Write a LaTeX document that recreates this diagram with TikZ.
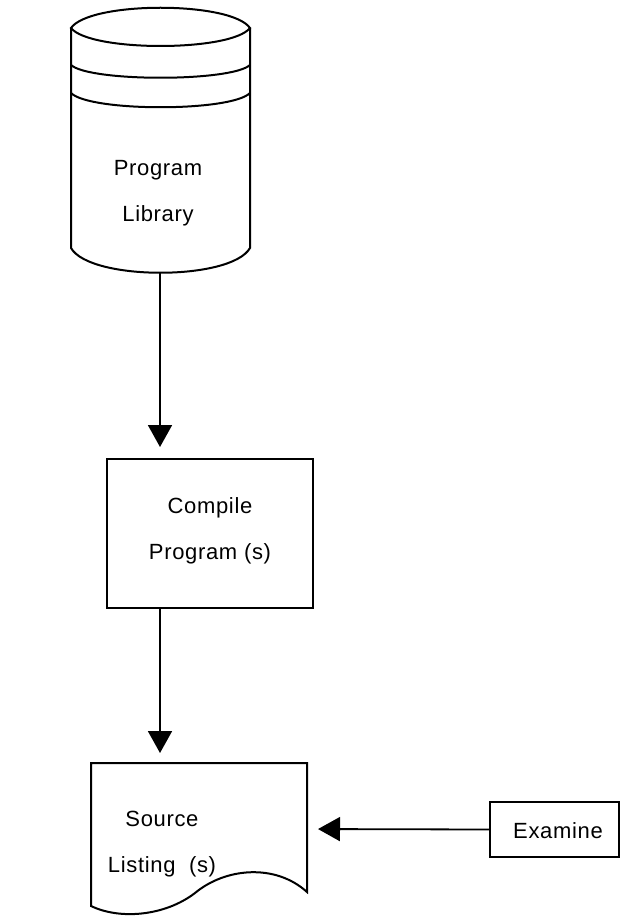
\documentclass[tikz,border=0pt]{standalone}
\usepackage{fontspec}
\setmainfont{Liberation Sans}[LetterSpace=3]
\usetikzlibrary{arrows.meta,calc}
\begin{document}
\begin{tikzpicture}[x=1pt,y=-1pt,
  lbl/.style={align=center,font=\fontsize{22}{46}\selectfont,inner sep=0pt},
  shp/.style={draw=black,line width=2pt,line join=miter},
  arr/.style={line width=1.8pt,-{Triangle[length=22pt,width=24pt]}}]
\useasboundingbox (0,0) rectangle (622,917);
% cylinder (program library)
\draw[shp] (71,28) .. controls (90,1) and (231,1) .. (250,28)
  .. controls (231,52) and (90,52) .. (71,28) -- cycle;
\draw[shp] (71,65) .. controls (90,82) and (231,82) .. (250,65);
\draw[shp] (71,93) .. controls (90,112) and (231,112) .. (250,93);
\draw[shp] (71,28) -- (71,248) .. controls (90,281) and (231,281) .. (250,248) -- (250,28);
\node[lbl] (lib) at (158,193) {Program\\Library};
\coordinate (libbot) at (160,273);
% compile box
\node[shp,minimum width=206pt,minimum height=149pt,inner sep=0pt] (compile) at (210,533.5) {};
\node[lbl] (compiletxt) at (210,531) {Compile\\Program (s)};
% source listing document
\draw[shp] (91,763) -- (307,763) -- (307,892)
  .. controls (275,863) and (225,868) .. (195,893)
  .. controls (165,916) and (120,920) .. (91,906) -- cycle;
\coordinate (listnorth) at (160,763);
\coordinate (listeast) at (307,829);
\node[lbl] (listing) at (162,844) {Source\\Listing\ \ (s)};
% examine box
\node[shp,minimum width=129pt,minimum height=55pt,inner sep=0pt] (examine) at (554.5,829.5) {};
\node[lbl] (examinetxt) at (558,831) {Examine};
% connectors
\draw[arr,shorten >=11pt] (libbot) -- (compile.north -| libbot);
\draw[arr,shorten >=10pt] (compile.south -| libbot) -- (listnorth);
\draw[arr,shorten >=11pt] (examine.west) -- (listeast);
\end{tikzpicture}
\end{document}
